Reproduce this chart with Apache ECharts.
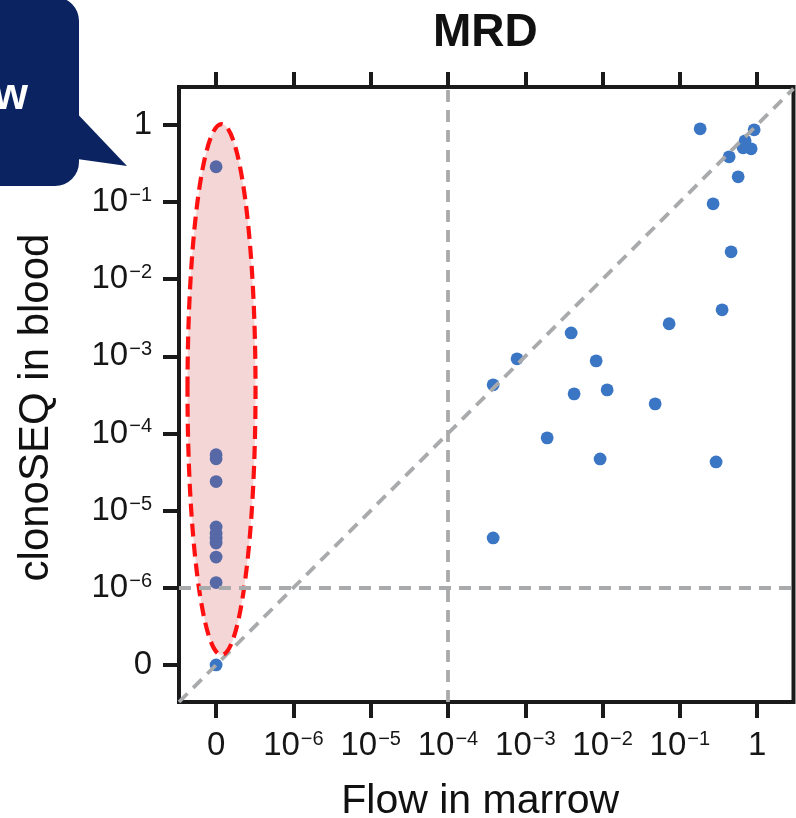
<!DOCTYPE html>
<html><head><meta charset="utf-8">
<script src="https://cdn.jsdelivr.net/npm/echarts@6/dist/echarts.min.js"></script>
<style>html,body{margin:0;padding:0;background:#fff}#c{width:796px;height:818px}</style>
</head><body><div id="c"></div>
<script>
// ---- data (fractions; 0 is drawn at the "0" position left of / below 10^-6) ----
const tickValues = [0, 1e-6, 1e-5, 1e-4, 1e-3, 1e-2, 1e-1, 1];
const tickLabels = ['0', '10^−6', '10^−5', '10^−4', '10^−3', '10^−2', '10^−1', '1'];

const flowMarrow = [
  0, 0, 0, 0, 0, 0, 0, 0, 0, 0, 0,
  0.183, 0.914, 0.698, 0.658, 0.836, 0.434, 0.568, 0.269, 0.460, 0.352, 0.0726,
  0.00392, 0.000783, 0.00826, 0.000384, 0.00428, 0.01146, 0.0479, 0.00192, 0.00929, 0.294, 0.000384
];
const clonoSEQBlood = [
  0.286, 5.3e-5, 4.7e-5, 2.38e-5, 6.15e-6, 5.1e-6, 4.4e-6, 3.8e-6, 2.5e-6, 1.17e-6, 0,
  0.887, 0.861, 0.621, 0.503, 0.489, 0.385, 0.212, 0.0946, 0.0226, 0.0040, 0.00264,
  0.00201, 0.000927, 0.000873, 0.000427, 0.000326, 0.000367, 0.000242, 8.77e-5, 4.68e-5, 4.28e-5, 4.43e-6
];
const flowThreshold = 1e-4;
const clonoThreshold = 1e-6;

// ---- scale: log10 decades, with 0 placed one decade below 10^-6 ----
const ZERO_POS = -7;
const pos = v => (v === 0 ? ZERO_POS : Math.log10(v));
const X_MIN = -7.48, X_MAX = 0.47, Y_MIN = -7.48, Y_MAX = 0.49;
// highlight ellipse around flow-negative samples (axis units)
const highlight = [[-6.93, -3.43, 0.44, 3.44]];

const tickPos = tickValues.map(pos);
const labelFor = {};
tickPos.forEach((p, i) => { labelFor[p] = tickLabels[i]; });
function fmt(v) {
  const l = labelFor[Math.round(v)];
  if (l === undefined) return '';
  if (l.indexOf('^') < 0) return '{b|' + l + '}';
  const parts = l.split('^');
  return '{b|' + parts[0] + '}{s|' + parts[1] + '}';
}
const rich = {
  b: { fontSize: 33, color: '#161616', fontFamily: 'Liberation Sans' },
  s: { fontSize: 20, color: '#161616', fontFamily: 'Liberation Sans', verticalAlign: 'top', padding: [0, 0, 0, 1] }
};

const points = flowMarrow.map((x, i) => [pos(x), pos(clonoSEQBlood[i])]);
const gray = '#a9aaac';
const dashStyle = { color: gray, width: 3.8, type: [12, 8] };
const black = '#1a1a1a';

const chart = echarts.init(document.getElementById('c'), null, { renderer: 'canvas' });
chart.setOption({
  animation: false,
  backgroundColor: '#ffffff',
  textStyle: { fontFamily: 'Liberation Sans' },
  title: {
    text: 'MRD', left: 433, top: 10, padding: 0,
    textStyle: { fontSize: 46, fontWeight: 'bold', color: '#111', fontFamily: 'Liberation Sans' }
  },
  grid: {
    left: 179, top: 87, width: 614.5, height: 615,
    outerBoundsMode: 'none', containLabel: false,
    show: true, borderColor: black, borderWidth: 4, backgroundColor: 'transparent'
  },
  xAxis: [{
    type: 'value', min: X_MIN, max: X_MAX, position: 'bottom',
    axisLine: { show: false, onZero: false }, splitLine: { show: false },
    axisTick: { show: true, customValues: tickPos, length: 16, lineStyle: { color: black, width: 4 } },
    axisLabel: { customValues: tickPos, formatter: fmt, rich: rich, margin: 27 },
    name: 'Flow in marrow', nameLocation: 'middle', nameGap: 79,
    nameTextStyle: { fontSize: 41, color: '#111', fontFamily: 'Liberation Sans', padding: [0, 12, 0, 0] }
  }, {
    type: 'value', min: X_MIN, max: X_MAX, position: 'top',
    axisLine: { show: false, onZero: false }, splitLine: { show: false },
    axisTick: { show: true, customValues: tickPos, length: 15, lineStyle: { color: black, width: 4 } },
    axisLabel: { show: false }
  }],
  yAxis: [{
    type: 'value', min: Y_MIN, max: Y_MAX, position: 'left',
    axisLine: { show: false, onZero: false }, splitLine: { show: false },
    axisTick: { show: true, customValues: tickPos, length: 16, lineStyle: { color: black, width: 4 } },
    axisLabel: { customValues: tickPos, formatter: fmt, rich: rich, margin: 27 },
    name: 'clonoSEQ in blood', nameLocation: 'middle', nameGap: 122, nameRotate: 90,
    nameTextStyle: { fontSize: 42, color: '#111', fontFamily: 'Liberation Sans', padding: [0, 26, 0, 0] }
  }],
  series: [{
    type: 'scatter', data: points, symbolSize: 12.8, z: 2,
    itemStyle: { color: '#3a76c4', opacity: 1 }
  }, {
    type: 'line', data: [[X_MIN, X_MIN], [X_MAX, X_MAX]], symbol: 'none', z: 3, silent: true,
    lineStyle: dashStyle,
    markLine: {
      silent: true, symbol: ['none', 'none'], label: { show: false },
      lineStyle: dashStyle,
      data: [{ xAxis: pos(flowThreshold) }, { yAxis: pos(clonoThreshold) }]
    }
  }, {
    type: 'custom', z: 4, silent: true, data: highlight,
    encode: { x: 0, y: 1 },
    renderItem: function (params, api) {
      const c = api.coord([api.value(0), api.value(1)]);
      const s = api.size([api.value(2), api.value(3)]);
      return {
        type: 'ellipse',
        shape: { cx: c[0], cy: c[1], rx: s[0], ry: s[1] },
        style: { fill: 'rgba(205,52,52,0.2)', stroke: '#ff1010', lineWidth: 4.2, lineDash: [13, 7] }
      };
    }
  }],
  graphic: [
    { type: 'rect', z: 10, shape: { x: -40, y: -3, width: 119, height: 189, r: 24 }, style: { fill: '#0b2461' } },
    { type: 'polygon', z: 10, shape: { points: [[70, 106], [127, 166], [70, 158]] }, style: { fill: '#0b2461' } },
    { type: 'text', z: 11, x: 28, y: 97, style: { text: 'w', fill: '#ffffff', font: 'bold 44px "Liberation Sans"', align: 'right', verticalAlign: 'middle' } }
  ]
});
</script></body></html>
